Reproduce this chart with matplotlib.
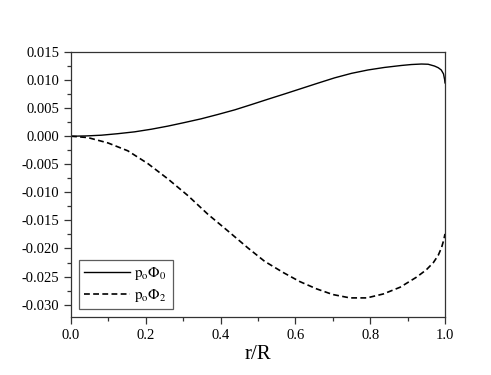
import numpy as np
import matplotlib
matplotlib.use("Agg")
import matplotlib.pyplot as plt
from matplotlib.ticker import MultipleLocator, FormatStrFormatter

plt.rcParams['font.family'] = ['Liberation Serif', 'DejaVu Serif']
plt.rcParams['mathtext.fontset'] = 'stix'

# values
r0 = [0.0, 0.04, 0.081, 0.125, 0.170, 0.215, 0.259, 0.303, 0.348, 0.393, 0.438,
      0.483, 0.527, 0.572, 0.616, 0.660, 0.705, 0.750, 0.794, 0.838, 0.883,
      0.910, 0.937, 0.955, 0.972, 0.982, 0.990, 0.996, 0.999, 1.0]
phi0 = [0.0, 0.00005, 0.00018, 0.00045, 0.00078, 0.00125, 0.0018, 0.00243,
        0.0031, 0.00388, 0.0047, 0.00565, 0.0066, 0.00755, 0.0085, 0.00945,
        0.0104, 0.0112, 0.0118, 0.01225, 0.0126, 0.01277, 0.01286, 0.01282,
        0.0125, 0.0122, 0.0118, 0.0111, 0.0101, 0.0095]

r2 = [0.0, 0.045, 0.099, 0.152, 0.206, 0.259, 0.313, 0.366, 0.420, 0.473,
      0.518, 0.568, 0.612, 0.657, 0.70, 0.746, 0.791, 0.835, 0.880, 0.924,
      0.950, 0.969, 0.982, 0.991, 0.997, 1.0]
phi2 = [0.0, -0.00024, -0.0012, -0.0026, -0.0049, -0.0076, -0.0106, -0.0139,
        -0.0169, -0.0199, -0.0223, -0.0243, -0.0259, -0.0272, -0.0282, -0.0288,
        -0.0288, -0.0281, -0.0269, -0.0251, -0.0238, -0.0225, -0.0212, -0.0198,
        -0.0184, -0.0174]

fig = plt.figure(figsize=(4.91, 3.75), dpi=100)
ax = fig.add_axes([0.1446, 0.1547, 0.7617, 0.7066])

ax.plot(r0, phi0, color='black', lw=1.0, solid_joinstyle='round',
        label=r'$\mathrm{p_o\Phi_0}$')
ax.plot(r2, phi2, color='black', lw=1.2, ls=(0, (3.5, 2)),
        label=r'$\mathrm{p_o\Phi_2}$')

ax.set_xlim(0, 1.0)
ax.set_ylim(-0.0322, 0.015)

ax.xaxis.set_major_locator(MultipleLocator(0.2))
ax.xaxis.set_minor_locator(MultipleLocator(0.1))
ax.yaxis.set_major_locator(MultipleLocator(0.005))
ax.yaxis.set_minor_locator(MultipleLocator(0.0025))
ax.xaxis.set_major_formatter(FormatStrFormatter('%.1f'))
ax.yaxis.set_major_formatter(FormatStrFormatter('%.3f'))

ax.tick_params(which='both', direction='out', top=False, right=False,
               labelsize=10.5, width=0.9, color='#333333')
ax.tick_params(which='major', length=5)
ax.tick_params(which='minor', length=3)
for s in ax.spines.values():
    s.set_linewidth(0.9)
    s.set_color('#333333')

ax.set_xlabel('r/R', fontsize=15, labelpad=2)

leg = ax.legend(loc='lower left', fontsize=11, frameon=True, fancybox=False,
                edgecolor='#333333', handlelength=3.0, borderaxespad=0.5,
                borderpad=0.35, labelspacing=0.3, handletextpad=0.3)
leg.get_frame().set_linewidth(0.9)

fig.savefig('out.png', dpi=100)
